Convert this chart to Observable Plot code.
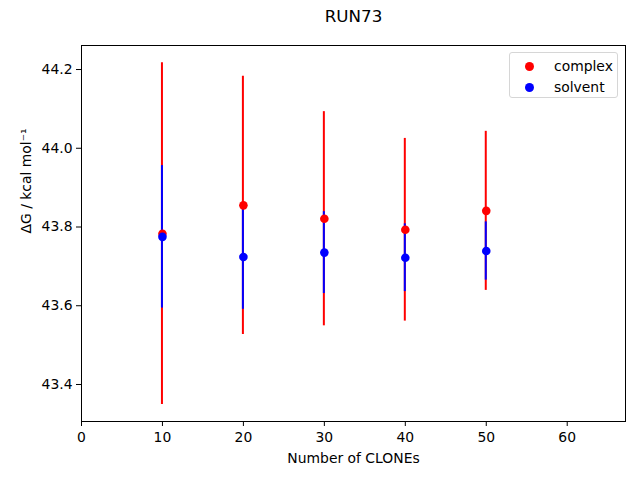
<!DOCTYPE html>
<html>
<head>
<meta charset="utf-8">
<script src="https://cdn.jsdelivr.net/npm/d3@7"></script>
<script src="https://cdn.jsdelivr.net/npm/@observablehq/plot@0.6"></script>
<style>
  body { margin: 0; background: #fff; }
  #wrap { position: relative; width: 640px; height: 480px; font-family: "DejaVu Sans", sans-serif; }
  #legend { position: absolute; left: 509px; top: 52px; width: 107px; height: 44px;
    border: 1px solid #d6d6d6; border-radius: 3px; background: rgba(255,255,255,0.8);
    font-size: 13.9px; color: #000; }
  .entry { position: absolute; left: 0; height: 20px; line-height: 20px; }
  .dot { position: absolute; left: 15px; width: 9px; height: 9px; border-radius: 50%; top: 6px; }
  .lab { position: absolute; left: 44px; white-space: nowrap; }
</style>
</head>
<body>
<div id="wrap"></div>
<script>
const title = "RUN73";
const xLabel = "Number of CLONEs";
const yLabel = "ΔG / kcal mol⁻¹";
const clones = [10, 20, 30, 40, 50];
const complexMean = [43.783, 43.855, 43.821, 43.793, 43.841];
const complexErr = [0.434, 0.328, 0.272, 0.232, 0.202];
const solventMean = [43.775, 43.724, 43.735, 43.722, 43.739];
const solventErr = [0.181, 0.133, 0.104, 0.086, 0.074];
const xTicks = [0, 10, 20, 30, 40, 50, 60];
const yTicks = [43.4, 43.6, 43.8, 44.0, 44.2];
const seriesNames = ["complex", "solvent"];
const seriesColors = ["#ff0000", "#0000ff"];

const rows = [];
clones.forEach((c, i) => {
  rows.push({x: c, y: complexMean[i], e: complexErr[i], s: seriesNames[0]});
});
clones.forEach((c, i) => {
  rows.push({x: c, y: solventMean[i], e: solventErr[i], s: seriesNames[1]});
});

const font = "DejaVu Sans, sans-serif";
const chart = Plot.plot({
  width: 640,
  height: 480,
  marginLeft: 81,
  marginRight: 15,
  marginTop: 45,
  marginBottom: 59,
  style: {fontFamily: font, fontSize: "13.9px", background: "#fff", color: "#000"},
  x: {domain: [0, 67.2], label: null},
  y: {domain: [43.306, 44.261], label: null},
  color: {domain: seriesNames, range: seriesColors},
  marks: [
    Plot.ruleX(rows, {x: "x", y1: d => d.y - d.e, y2: d => d.y + d.e, stroke: "s", strokeWidth: 2, dx: -0.5}),
    Plot.dot(rows, {x: "x", y: "y", fill: "s", r: 4.3}),
    Plot.frame({stroke: "#000", strokeWidth: 1}),
    Plot.axisX({ticks: xTicks, tickSize: 5, tickPadding: 6, fontSize: "13.9px", label: null, tickFormat: d3.format("d")}),
    Plot.axisY({ticks: yTicks, tickSize: 5, tickPadding: 4, fontSize: "13.9px", label: null, tickFormat: d3.format(".1f")}),
    Plot.text([xLabel], {frameAnchor: "bottom", dy: 41.3, lineAnchor: "bottom", fontSize: 13.9, text: d => d}),
    Plot.text([yLabel], {frameAnchor: "left", dx: -55, rotate: -90, fontSize: 13.9, text: d => d}),
    Plot.text([title], {frameAnchor: "top", dy: -23.7, lineAnchor: "bottom", fontSize: 16.7, text: d => d})
  ]
});
const wrap = document.getElementById("wrap");
wrap.appendChild(chart);

const legend = document.createElement("div");
legend.id = "legend";
seriesNames.forEach((name, i) => {
  const e = document.createElement("div");
  e.className = "entry";
  e.style.top = (3 + i * 21) + "px";
  e.style.width = "100%";
  const dot = document.createElement("span");
  dot.className = "dot";
  dot.style.background = seriesColors[i];
  const lab = document.createElement("span");
  lab.className = "lab";
  lab.textContent = name;
  e.appendChild(dot);
  e.appendChild(lab);
  legend.appendChild(e);
});
wrap.appendChild(legend);
</script>
</body>
</html>
